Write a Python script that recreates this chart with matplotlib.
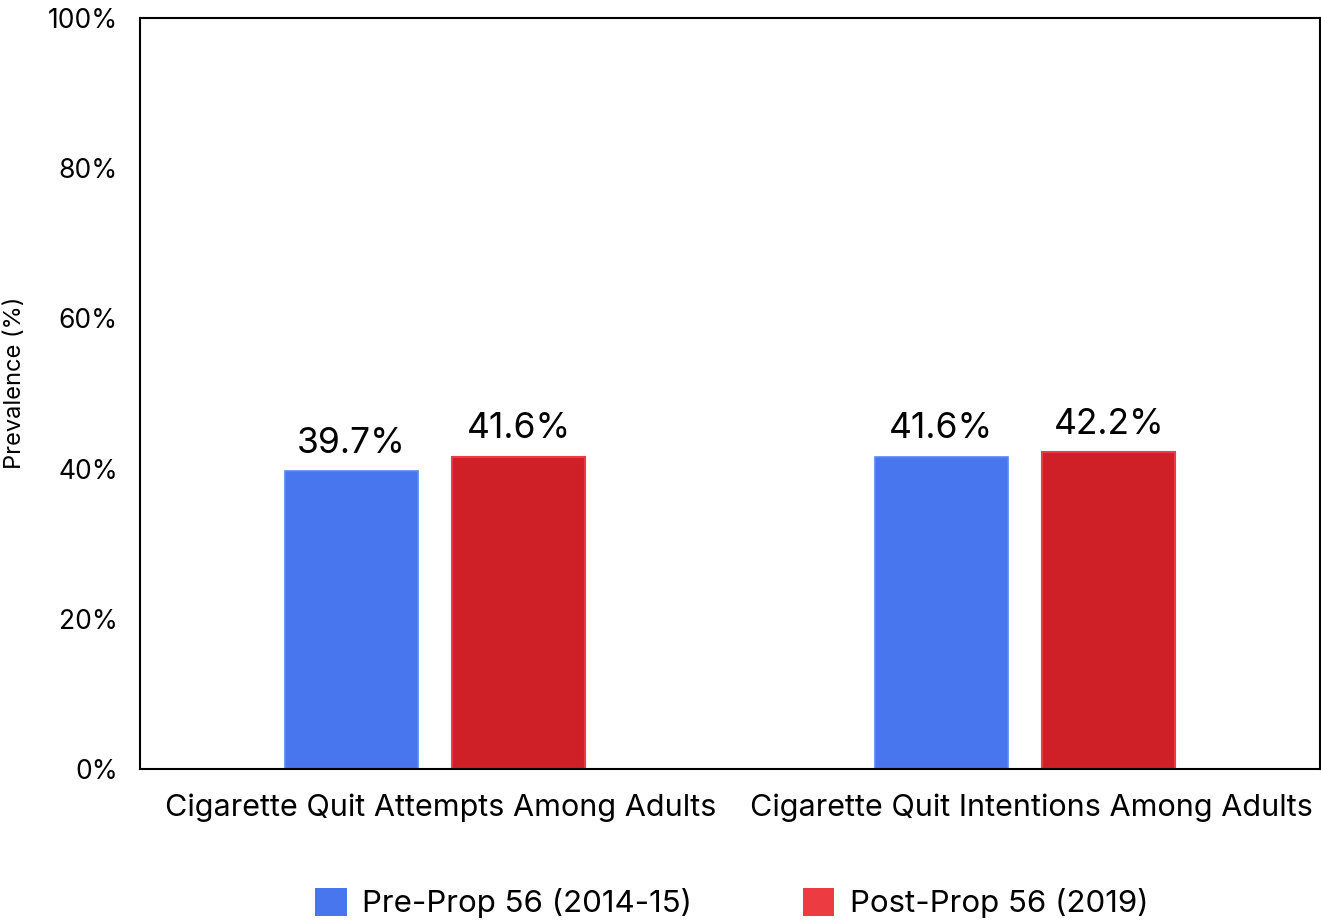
import matplotlib.pyplot as plt
import matplotlib.transforms as mtransforms
from matplotlib.patches import Patch
import numpy as np

categories = ['Cigarette Quit Attempts Among Adults', 'Cigarette Quit Intentions Among Adults']
pre_prop = [39.7, 41.6]
post_prop = [41.6, 42.2]
series_labels = ['Pre-Prop 56 (2014-15)', 'Post-Prop 56 (2019)']
yticks = [0, 20, 40, 60, 80, 100]

plt.rcParams['font.family'] = ['Inter', 'DejaVu Sans']

fig = plt.figure(figsize=(13.21, 9.23), dpi=100)
ax = fig.add_axes([140 / 1321, 1 - 769 / 923, 1180 / 1321, 751 / 923])

x = np.arange(len(categories))
w = 0.225
off = 0.142
b1 = ax.bar(x - off, pre_prop, w, color='#4876ee', edgecolor='#5a86f5', linewidth=1.2)
b2 = ax.bar(x + off, post_prop, w, color='#ce2026', edgecolor='#ec3b41', linewidth=1.5)

# value labels above each bar
for bars, vals in [(b1, pre_prop), (b2, post_prop)]:
    for bar, v in zip(bars, vals):
        ax.text(bar.get_x() + bar.get_width() / 2, v + 1.5, f'{v:.1f}%',
                ha='center', va='bottom', fontsize=25.5)

ax.set_xlim(-0.5, 1.5)
ax.set_ylim(0, 100)
ax.set_yticks(yticks)
ax.set_yticklabels([f'{t}%' for t in yticks], fontsize=19)
ax.set_xticks(x)
ax.set_xticklabels(categories, fontsize=22)
ax.tick_params(length=0, pad=16)
ax.tick_params(axis='x', pad=18)
shift = mtransforms.ScaledTranslation(6 / 100, 0, fig.dpi_scale_trans)
for lbl in ax.get_xticklabels():
    lbl.set_transform(lbl.get_transform() + shift)
for s in ax.spines.values():
    s.set_linewidth(1.5)

# y-axis title placed in figure coords so it stays inside the canvas
fig.text(15 / 1321, 1 - 383 / 923, 'Prevalence (%)', rotation=90, fontsize=17,
         ha='center', va='center')

handles = [Patch(facecolor='#4876ee', edgecolor='none'),
           Patch(facecolor='#ec3b41', edgecolor='none')]
fig.legend(handles, series_labels, loc='center', bbox_to_anchor=(732 / 1321, 1 - 903 / 923),
           ncol=2, frameon=False, fontsize=22.5, handlelength=1.0, handleheight=1.0,
           columnspacing=3.55, handletextpad=0.5)

plt.savefig('out.png', dpi=100)
